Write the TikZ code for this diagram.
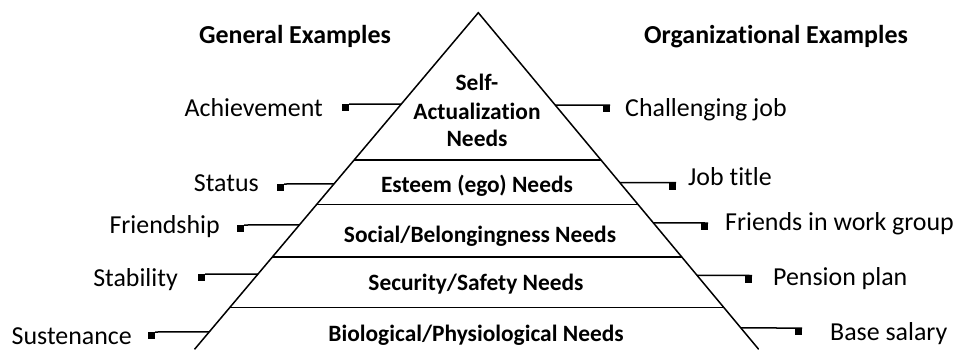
\documentclass[tikz,border=0pt]{standalone}
\usepackage{fontspec}
\setmainfont{Carlito}[RawFeature={-liga;-dlig;-clig}]
\usetikzlibrary{calc}
\tikzset{
  lbl/.style={font=\fontsize{26}{31}\selectfont, inner sep=0pt},
  ttl/.style={font=\bfseries\fontsize{26}{31}\selectfont, inner sep=0pt},
  need/.style={font=\bfseries\fontsize{23.5}{28}\selectfont, inner sep=0pt},
  sq/.style={fill=black, draw=none, minimum size=7bp, inner sep=0pt, rectangle},
  edge/.style={line width=1.5bp, line cap=round},
  conn/.style={line width=1.5bp}
}
\begin{document}
\begin{tikzpicture}[x=1bp,y=-1bp]
\useasboundingbox (0,0) rectangle (961,349);
% pyramid
\coordinate (A) at (478.3,12.7);
\coordinate (BL) at (194.8,349);
\coordinate (BR) at (758.4,349);
\draw[edge] (BL) -- (A) -- (BR);
% level lines
\foreach \t/\n in {0.438/1,0.570/2,0.726/3,0.876/4}{
  \coordinate (l\n) at ($(A)!\t!(BL)$);
  \coordinate (r\n) at ($(A)!\t!(BR)$);
  \draw[conn] (l\n) -- (r\n);
}
% titles
\node[ttl, anchor=base] (tg) at (295,43) {General Examples};
\node[ttl, anchor=base] (to) at (776,43) {Organizational Examples};
% need labels
\node[need, anchor=base] (n1a) at (477,90.5) {Self-};
\node[need, anchor=base] (n1b) at (477,119) {Actualization};
\node[need, anchor=base] (n1c) at (477,146.7) {Needs};
\node[need, anchor=base] (n2) at (477,192) {Esteem (ego) Needs};
\node[need, anchor=base] (n3) at (480,242.7) {Social/Belongingness Needs};
\node[need, anchor=base] (n4) at (476,290) {Security/Safety Needs};
\node[need, anchor=base] (n5) at (476,341.7) {Biological/Physiological Needs};
% left examples
\node[lbl, anchor=base east] (g1) at (323,116.7) {Achievement};
\node[lbl, anchor=base east] (g2) at (259,191.7) {Status};
\node[lbl, anchor=base east] (g3) at (220,233) {Friendship};
\node[lbl, anchor=base east] (g4) at (178,286) {Stability};
\node[lbl, anchor=base east] (g5) at (132,344) {Sustenance};
% right examples
\node[lbl, anchor=base west] (o1) at (625,116.5) {Challenging job};
\node[lbl, anchor=base west] (o2) at (688,185) {Job title};
\node[lbl, anchor=base west] (o3) at (725,230) {Friends in work group};
\node[lbl, anchor=base west] (o4) at (773,285) {Pension plan};
\node[lbl, anchor=base west] (o5) at (830,340.7) {Base salary};
% left connectors
\foreach \i/\x/\y/\t in {1/349/104/0.2715, 2/284/184/0.509, 3/244/225/0.631, 4/205/274/0.777, 5/155/332/0.949}{
  \node[sq, anchor=north east] (gs\i) at (\x,\y) {};
  \coordinate (ge\i) at ($(A)!\t!(BL)$);
  \draw[conn] (gs\i.north east) -- (ge\i);
}
% right connectors
\foreach \i/\x/\y/\t in {1/610/105/0.2745, 2/676/182.5/0.505, 3/708/223/0.625, 4/752/275.5/0.781, 5/802/328/0.9375}{
  \node[sq, anchor=north east] (os\i) at (\x,\y) {};
  \coordinate (oe\i) at ($(A)!\t!(BR)$);
  \draw[conn] (oe\i) -- (os\i.north east);
}
\end{tikzpicture}
\end{document}
